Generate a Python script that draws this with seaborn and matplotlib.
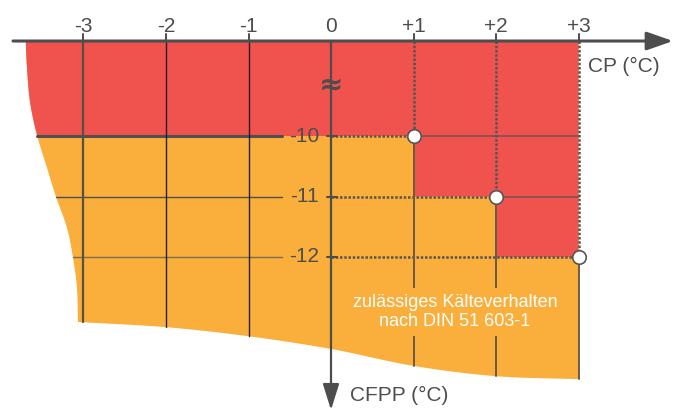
import numpy as np
import matplotlib
matplotlib.use("Agg")
import matplotlib.pyplot as plt
import seaborn as sns

# ---------------- data ----------------
cp_ticks = [-3, -2, -1, 0, 1, 2, 3]
cp_tick_labels = ["-3", "-2", "-1", "0", "+1", "+2", "+3"]
cfpp_levels = [-10, -11, -12]
cfpp_labels = ["-10", "-11", "-12"]
limit_cp = [1, 2, 3]
limit_cfpp = [-10, -11, -12]

left_edge_cp = [-3.70, -3.685, -3.648, -3.564, -3.442, -3.333, -3.20, -3.127, -3.079, -3.067]
left_edge_cfpp = [-8.43, -8.876, -9.438, -9.983, -10.529, -11.008, -11.521, -12.017, -12.512, -13.074]
bottom_edge_cp = [-3.067, -2.0, -1.0, 0.0, 1.0, 2.0, 3.0]
bottom_edge_cfpp = [-13.074, -13.16, -13.31, -13.52, -13.80, -13.97, -14.02]

axis_top = -8.43          # CFPP value where the (broken) top axis sits
break_level = -9.17       # position of the axis-break sign
note = "zulässiges Kälteverhalten\nnach DIN 51 603-1"

# ---------------- style ----------------
sns.set_style("white")
plt.rcParams["font.family"] = ["Liberation Sans", "DejaVu Sans"]
RED = "#F0524E"
ORANGE = "#FAAF3C"
DARK = "#4D4D4D"


def smooth(xs, ys, n=16):
    """Catmull-Rom smoothing of an outline for drawing."""
    p = np.column_stack([xs, ys]).astype(float)
    p = np.vstack([2 * p[0] - p[1], p, 2 * p[-1] - p[-2]])
    out = []
    for i in range(1, len(p) - 2):
        p0, p1, p2, p3 = p[i - 1], p[i], p[i + 1], p[i + 2]
        for t in np.linspace(0, 1, n, endpoint=False):
            t2, t3 = t * t, t * t * t
            out.append(0.5 * ((2 * p1) + (-p0 + p2) * t + (2 * p0 - 5 * p1 + 4 * p2 - p3) * t2
                              + (-p0 + 3 * p1 - 3 * p2 + p3) * t3))
    out.append(p[-2])
    out = np.array(out)
    return out[:, 0], out[:, 1]


fig = plt.figure(figsize=(6.81, 4.12), dpi=100)
ax = fig.add_axes([0, 0, 1, 1])
ax.set_xlim(-331 / 82.5, 350 / 82.5)
ax.set_ylim(-10 - 276 / 60.5, -10 + 136 / 60.5)
ax.axis("off")

lx, ly = smooth(left_edge_cp, left_edge_cfpp)
bx, by = smooth(bottom_edge_cp, bottom_edge_cfpp)

# orange: whole shape
ox = np.concatenate([lx, bx, [3, 3]])
oy = np.concatenate([ly, by, [axis_top, axis_top]])
ax.fill(ox, oy, color=ORANGE, lw=0, zorder=1)


def left_x(level):
    return np.interp(-level, -ly, lx)


def bottom_y(cp):
    return np.interp(cp, bx, by)


# red: above the limit step
mask = ly > cfpp_levels[0]
rx = list(lx[mask]) + [left_x(cfpp_levels[0])]
ry = list(ly[mask]) + [cfpp_levels[0]]
for i in range(len(limit_cp)):
    rx.append(limit_cp[i]); ry.append(limit_cfpp[i])
    if i + 1 < len(limit_cp):
        rx.append(limit_cp[i]); ry.append(limit_cfpp[i + 1])
rx.append(limit_cp[-1]); ry.append(axis_top)
ax.fill(rx, ry, color=RED, lw=0, zorder=2)

dotted = (0, (1.0, 0.7))
label_gap = -0.594

# horizontal grid lines
for k, lev in enumerate(cfpp_levels):
    lw = 2.2 if k == 0 else 1.0
    col = "#505050" if k < 2 else "#7a6a55"
    sns.lineplot(x=[left_x(lev), label_gap], y=[lev, lev], color=col, lw=lw, ax=ax, zorder=3)
    pc = limit_cp[k]
    sns.lineplot(x=[0, pc], y=[lev, lev], color="#555555", lw=1.8, ls=dotted, ax=ax, zorder=3)
    if pc < 3:
        ax.plot([pc, 3], [lev, lev], color="#555555", lw=1.4, alpha=0.65, zorder=3)
    ax.text(-0.145, lev, cfpp_labels[k], ha="right", va="center", fontsize=15, color=DARK, zorder=5)
    ax.plot([-0.05, 0.073], [lev, lev], color=DARK, lw=1.5, zorder=4)

# vertical grid lines
tick_top = -10 + 102 / 60.5
for cp in cp_ticks:
    if cp == 0:
        continue
    ax.plot([cp, cp], [tick_top, axis_top], color=DARK, lw=1.4, zorder=4)
    if cp < 0:
        ax.plot([cp, cp], [axis_top, bottom_y(cp)], color="#222222" if cp > -3 else "#5a5040",
                lw=1.0 if cp > -3 else 1.6, zorder=3)
    else:
        lev = limit_cfpp[limit_cp.index(cp)]
        ax.plot([cp, cp], [axis_top, lev], color="#555555", lw=1.8, ls=dotted, zorder=3)
        ax.plot([cp, cp], [lev, bottom_y(cp)], color="#6a5a45", lw=1.4, zorder=3)

# top tick labels
for cp, lab in zip(cp_ticks, cp_tick_labels):
    ax.text(cp, -10 + 110 / 60.5, lab, ha="center", va="center", fontsize=15, color=DARK)

# axes with arrows
ax.annotate("", xy=(342 / 82.5, axis_top), xytext=(-318 / 82.5, axis_top),
            arrowprops=dict(arrowstyle="-|>,head_length=0.8,head_width=0.28", color=DARK,
                            lw=2.2, mutation_scale=20, shrinkA=0, shrinkB=0), zorder=6)
ax.annotate("", xy=(0, -10 - 274 / 60.5), xytext=(0, axis_top),
            arrowprops=dict(arrowstyle="-|>,head_length=0.8,head_width=0.25", color=DARK,
                            lw=1.6, mutation_scale=20, shrinkA=0, shrinkB=0), zorder=6)

ax.text(0, break_level, "≈", ha="center", va="center", fontsize=21, color=DARK,
        family="DejaVu Sans", fontweight="bold", zorder=7)
ax.text(3.115, -8.843, "CP (°C)", ha="left", va="center", fontsize=15, color=DARK)
ax.text(0.23, -14.281, "CFPP (°C)", ha="left", va="center", fontsize=15, color=DARK)

ax.text(1.503, -12.909, note, ha="center", va="center", fontsize=13, color="white",
        linespacing=1.15, zorder=8,
        bbox=dict(boxstyle="square,pad=0.35", fc=ORANGE, ec="none"))

sns.scatterplot(x=limit_cp, y=limit_cfpp, s=95, color="white", edgecolor="#555555",
                linewidth=1.2, ax=ax, zorder=10)

fig.savefig("out.png", dpi=100)
